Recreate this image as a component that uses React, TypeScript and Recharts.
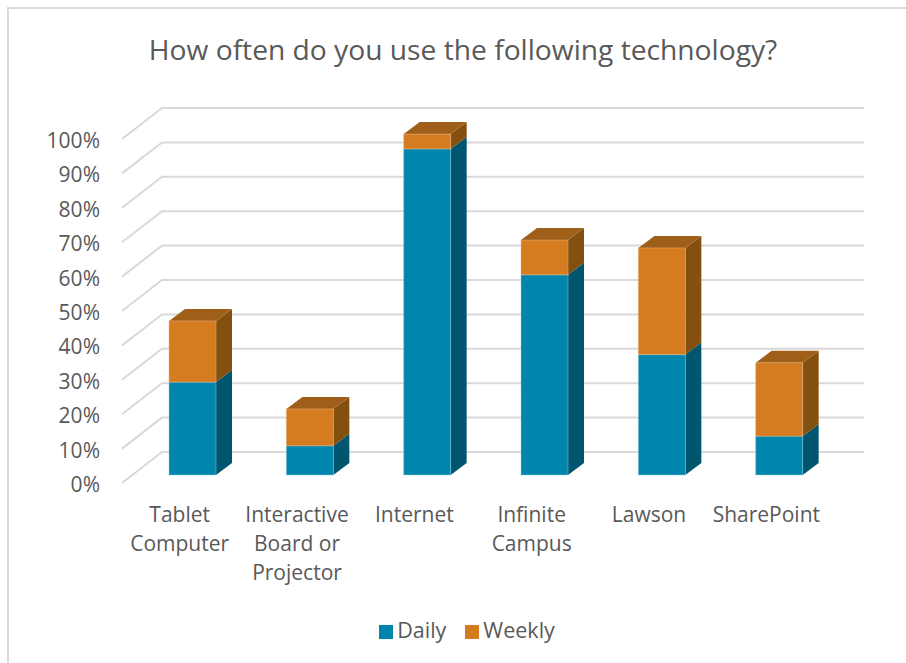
import { BarChart, Bar, XAxis, YAxis, Legend, CartesianGrid } from 'recharts'

const categories = ['Tablet Computer', 'Interactive Board or Projector', 'Internet', 'Infinite Campus', 'Lawson', 'SharePoint']
const categoryLines = [['Tablet', 'Computer'], ['Interactive', 'Board or', 'Projector'], ['Internet'], ['Infinite', 'Campus'], ['Lawson'], ['SharePoint']]
const daily = [27, 8.5, 94.8, 58.2, 35, 11.3]
const weekly = [17.8, 10.7, 4.3, 10.1, 31, 21.3]
const yTicks = [0, 10, 20, 30, 40, 50, 60, 70, 80, 90, 100]

const data = categories.map((name, i) => ({ name, daily: daily[i], weekly: weekly[i] }))

const TEXT = '#595959'
const FONT = '"Open Sans", sans-serif'
const DEPTH_X = 16
const DEPTH_Y = 12

function Box3D(props: any) {
  const { x, y, width, height, fill, side, top, edge } = props
  const r = x + width
  const b = y + height
  return (
    <g>
      <polygon points={`${r},${y} ${r + DEPTH_X},${y - DEPTH_Y} ${r + DEPTH_X},${b - DEPTH_Y} ${r},${b}`} fill={side} />
      {top && <polygon points={`${x},${y} ${x + DEPTH_X},${y - DEPTH_Y} ${r + DEPTH_X},${y - DEPTH_Y} ${r},${y}`} fill={top} />}
      <rect x={x} y={y} width={width} height={height} fill={fill} stroke={edge} strokeOpacity={0.45} strokeWidth={1} />
    </g>
  )
}

// floor segment plus back wall line for one gridline
function GridLine({ y1, y }: any) {
  const at = y1 ?? y
  return <polyline points={`122,${at + 8} 162,${at - 23} 864,${at - 23}`} fill="none" stroke="#d9d9d9" strokeWidth={2} />
}

function YTick({ y, payload }: any) {
  return <text x={100} y={y + 17} textAnchor="end" fill={TEXT} fontSize={21} fontFamily={FONT}>{payload.value}%</text>
}

function XTick({ x, y, index }: any) {
  return (
    <text x={x - 13} y={y} textAnchor="middle" fill={TEXT} fontSize={21} fontFamily={FONT}>
      {categoryLines[index].map((line, i) => (
        <tspan key={line} x={x - 13} y={y + 39 + i * 29}>{line}</tspan>
      ))}
    </text>
  )
}

export default function App() {
  return (
    <div style={{ position: 'absolute', left: 0, top: 0, width: 906, height: 663, overflow: 'hidden', background: '#fff' }}>
      <div style={{ position: 'absolute', left: 7, top: 7, width: 920, height: 700, border: '2px solid #d9d9d9' }} />
      <div style={{ position: 'absolute', left: 0, top: 0 }}>
        <BarChart width={906} height={663} data={data} margin={{ top: 131, right: 68, bottom: 40, left: 14 }}>
          <text x={463} y={60} textAnchor="middle" fill={TEXT} fontSize={28.2} fontFamily={FONT}>How often do you use the following technology?</text>
          <CartesianGrid vertical={false} horizontal={(p: any) => <GridLine key={p.key ?? p.index} {...p} />} />
          <YAxis width={120} domain={[0, 100]} ticks={yTicks} interval={0} axisLine={false} tickLine={false} tick={<YTick />} />
          <XAxis dataKey="name" height={100} interval={0} axisLine={false} tickLine={false} tick={<XTick />} />
          <Legend
            verticalAlign="bottom"
            height={48}
            iconType="square"
            iconSize={14}
            wrapperStyle={{ bottom: 2, left: 60 }}
            formatter={(v: string) => (
              <span style={{ color: TEXT, fontSize: 21.5, fontFamily: FONT, position: 'relative', top: 2, marginRight: v === 'Daily' ? 9 : 0 }}>{v}</span>
            )}
          />
          <Bar dataKey="daily" name="Daily" stackId="a" barSize={47} fill="#0085AD" isAnimationActive={false}
            shape={(p: any) => <Box3D {...p} side="#00566F" edge="#8fd0e4" />} />
          <Bar dataKey="weekly" name="Weekly" stackId="a" barSize={47} fill="#D57B20" isAnimationActive={false}
            shape={(p: any) => <Box3D {...p} side="#84500F" top="#A05F18" edge="#e8b888" />} />
        </BarChart>
      </div>
    </div>
  )
}
